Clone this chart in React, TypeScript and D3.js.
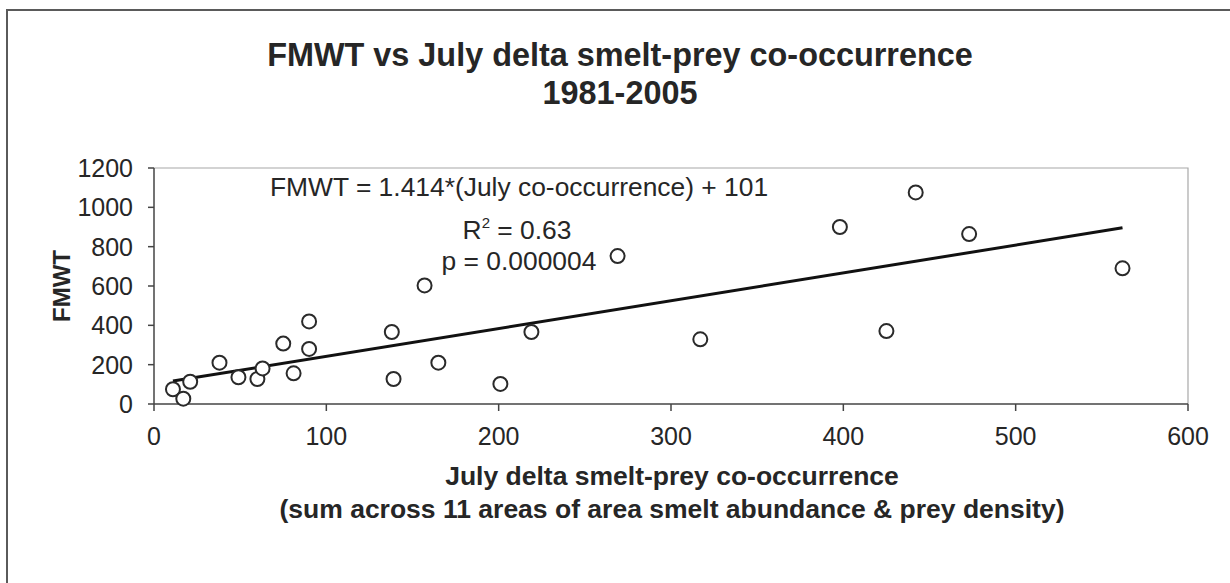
import React from "react";
import * as d3 from "d3";

const titleLines = ["FMWT vs July delta smelt-prey co-occurrence", "1981-2005"];
const xTitleLines = [
  "July delta smelt-prey co-occurrence",
  "(sum across 11 areas of area smelt abundance & prey density)",
];
const yTitle = "FMWT";
const xTicks = [0, 100, 200, 300, 400, 500, 600];
const yTicks = [0, 200, 400, 600, 800, 1000, 1200];
const cooccurrence = [11, 17, 21, 38, 49, 60, 63, 75, 81, 90, 90, 138, 139, 157, 165, 201, 219, 269, 317, 398, 425, 442, 473, 562];
const fmwt = [75, 27, 113, 210, 136, 127, 181, 307, 156, 420, 280, 366, 127, 603, 210, 102, 366, 752, 329, 900, 371, 1076, 864, 690];
const slope = 1.414;
const intercept = 101;
const equationText = "FMWT = 1.414*(July co-occurrence) + 101";
const r2Value = "0.63";
const pText = "p = 0.000004";

const W = 1230;
const H = 583;
const TEXT = "#262626";
const FONT = "'Liberation Sans', Arial, sans-serif";

export default function App() {
  const x = d3.scaleLinear().domain([0, 600]).range([154, 1188]);
  const y = d3.scaleLinear().domain([0, 1200]).range([404, 168]);
  const pts = cooccurrence.map((c, i) => ({ c, f: fmwt[i] }));
  const [xmin, xmax] = d3.extent(cooccurrence) as [number, number];
  const line = d3
    .line<number>()
    .x((d) => x(d))
    .y((d) => y(slope * d + intercept));
  const [x0, x1] = x.range();
  const [y0, y1] = y.range();

  return (
    <svg
      width={W}
      height={H}
      style={{ position: "absolute", left: 0, top: 0, display: "block", background: "#fff" }}
      fontFamily={FONT}
    >
      <rect x={0} y={0} width={W} height={H} fill="#fff" />
      {/* outer frame */}
      <path d={`M7,${H + 10} V10 H${W + 10}`} fill="none" stroke="#5a5a5a" strokeWidth={2} />

      {/* title */}
      <text x={620} y={66} textAnchor="middle" fontSize={32.4} fontWeight="bold" fill={TEXT}>
        {titleLines[0]}
      </text>
      <text x={620} y={104} textAnchor="middle" fontSize={32.4} fontWeight="bold" fill={TEXT}>
        {titleLines[1]}
      </text>

      {/* plot border top/right */}
      <path d={`M${x0},${y1} H${x1} V${y0}`} fill="none" stroke="#a8a8a8" strokeWidth={1.2} />

      {/* axes */}
      <line x1={x0} x2={x0} y1={y1} y2={y0} stroke="#444" strokeWidth={1.5} />
      <line x1={x0} x2={x1} y1={y0} y2={y0} stroke="#444" strokeWidth={1.5} />
      {yTicks.map((t) => (
        <g key={"yt" + t}>
          <line x1={x0 - 6} x2={x0} y1={y(t)} y2={y(t)} stroke="#444" strokeWidth={1.5} />
          <text x={133} y={y(t)} dy="0.36em" textAnchor="end" fontSize={25} fill={TEXT}>
            {t}
          </text>
        </g>
      ))}
      {xTicks.map((t) => (
        <g key={"xt" + t}>
          <line x1={x(t)} x2={x(t)} y1={y0} y2={y0 + 7} stroke="#444" strokeWidth={1.5} />
          <text x={x(t)} y={445} textAnchor="middle" fontSize={25} fill={TEXT}>
            {t}
          </text>
        </g>
      ))}

      {/* axis titles */}
      <text x={672} y={485} textAnchor="middle" fontSize={26.5} fontWeight="bold" fill={TEXT}>
        {xTitleLines[0]}
      </text>
      <text x={672} y={518} textAnchor="middle" fontSize={26.5} fontWeight="bold" fill={TEXT}>
        {xTitleLines[1]}
      </text>
      <text
        transform={`translate(70,${(y0 + y1) / 2}) rotate(-90)`}
        textAnchor="middle"
        fontSize={24}
        fontWeight="bold"
        fill={TEXT}
      >
        {yTitle}
      </text>

      {/* trend line */}
      <path d={line([xmin, xmax]) || ""} fill="none" stroke="#111" strokeWidth={3} />

      {/* points */}
      {pts.map((p, i) => (
        <circle key={i} cx={x(p.c)} cy={y(p.f)} r={7} fill="#fff" stroke="#2a2a2a" strokeWidth={2} />
      ))}

      {/* annotation */}
      <text x={519} y={196} textAnchor="middle" fontSize={26.4} fill={TEXT}>
        {equationText}
      </text>
      <text x={517} y={239} textAnchor="middle" fontSize={26.4} fill={TEXT}>
        R<tspan fontSize={15} dy={-11}>2</tspan>
        <tspan dy={11}>{" = " + r2Value}</tspan>
      </text>
      <text x={519} y={270} textAnchor="middle" fontSize={26.4} fill={TEXT}>
        {pText}
      </text>
    </svg>
  );
}
